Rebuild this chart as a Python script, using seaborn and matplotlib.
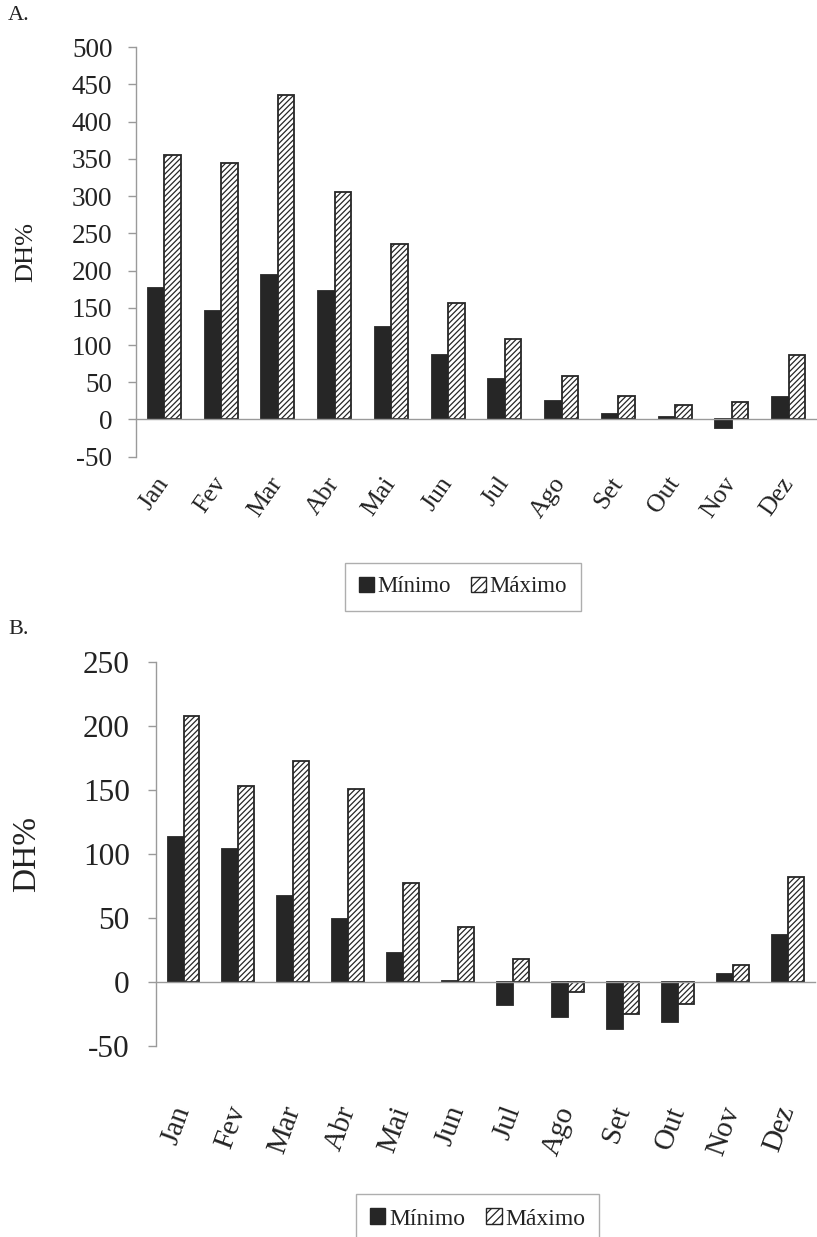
import matplotlib
matplotlib.use("Agg")
import matplotlib.pyplot as plt
from matplotlib.patches import Patch
import numpy as np
import pandas as pd
import seaborn as sns

# Monthly DH% values
meses = ["Jan", "Fev", "Mar", "Abr", "Mai", "Jun",
         "Jul", "Ago", "Set", "Out", "Nov", "Dez"]
series = ["Mínimo", "Máximo"]

a_minimo = [177, 146, 194, 173, 124, 87, 55, 25, 7, 3.5, -12, 30]
a_maximo = [355, 344, 436, 305, 236, 156, 108, 59, 32, 19, 23, 87]

b_minimo = [113, 104, 67, 49, 23, 0.5, -18, -27, -37, -31, 6, 37]
b_maximo = [208, 153, 173, 151, 77, 43, 18, -8, -25, -17, 13.5, 82]

a_yticks = list(range(-50, 501, 50))
b_yticks = list(range(-50, 251, 50))

sns.set_style("white")
plt.rcParams["font.family"] = ["Liberation Serif", "DejaVu Serif"]
plt.rcParams["hatch.linewidth"] = 0.9

DARK = "#262626"
GRAY = "#9a9a9a"


def long_frame(vmin, vmax):
    return pd.DataFrame({
        "mes": meses * 2,
        "serie": [series[0]] * len(meses) + [series[1]] * len(meses),
        "valor": list(vmin) + list(vmax),
    })


def draw_panel(ax, vmin, vmax, yticks, ytick_fs, xtick_fs, rot, pad, ylab_fs, ypad):
    sns.barplot(data=long_frame(vmin, vmax), x="mes", y="valor", hue="serie",
                order=meses, hue_order=series,
                palette={"Mínimo": DARK, "Máximo": "white"},
                saturation=1, width=0.58, errorbar=None,
                edgecolor=DARK, linewidth=1.3, legend=False, ax=ax)
    for bar in ax.containers[1]:
        bar.set_hatch("//////")

    ax.set_xlim(-0.5, len(meses) - 0.5)
    ax.set_ylim(yticks[0], yticks[-1])
    ax.set_yticks(yticks)
    ax.set_yticklabels([str(t) for t in yticks], fontsize=ytick_fs, color="#222222")

    # x axis sits on the zero line; labels hang below the plot
    for s in ["top", "right"]:
        ax.spines[s].set_visible(False)
    ax.spines["bottom"].set_position(("data", 0))
    ax.spines["bottom"].set_color(GRAY)
    ax.spines["left"].set_color(GRAY)
    ax.spines["bottom"].set_linewidth(1.0)
    ax.spines["left"].set_linewidth(1.0)

    ax.set_xticks(range(len(meses)))
    ax.set_xticklabels(meses, fontsize=xtick_fs, rotation=rot,
                       ha="right", va="center", rotation_mode="anchor",
                       color="#222222")
    ax.set_xticks(np.arange(len(meses)) + 0.5, minor=True)
    ax.tick_params(axis="x", which="major", length=0, pad=pad)
    ax.tick_params(axis="x", which="minor", length=5, width=1,
                   color=GRAY, direction="out")
    ax.tick_params(axis="y", length=6, width=1, color=GRAY,
                   direction="out", pad=ypad, left=True)
    ax.set_xlabel("")
    ax.set_ylabel("DH%", fontsize=ylab_fs, color="#222222")


fig = plt.figure(figsize=(8.17, 12.37), dpi=100)
axA = fig.add_axes([0.1665, 0.6308, 0.8335, 0.3310])
axB = fig.add_axes([0.191, 0.1544, 0.8066, 0.3104])

draw_panel(axA, a_minimo, a_maximo, a_yticks, 19.5, 18.5, 55, 43, 19, 11)
draw_panel(axB, b_minimo, b_maximo, b_yticks, 22.5, 21, 70, 90, 24, 13)
axA.yaxis.set_label_coords(-0.145, 0.5)
axB.yaxis.set_label_coords(-0.173, 0.5)

fig.text(8 / 817, 1 - 16 / 1237, "A.", fontsize=16, va="center", ha="left",
         color="#222222")
fig.text(8 / 817, 1 - 630 / 1237, "B.", fontsize=16, va="center", ha="left",
         color="#222222")

handles = [Patch(facecolor=DARK, edgecolor=DARK, label="Mínimo"),
           Patch(facecolor="white", edgecolor=DARK, hatch="////", label="Máximo")]

for (cx, cy, fs) in [(0.5667, 1 - 587 / 1237, 16.5), (0.5845, 1 - 1219 / 1237, 17)]:
    leg = fig.legend(handles=handles, loc="center", bbox_to_anchor=(cx, cy),
                     ncol=2, fontsize=fs, frameon=True, fancybox=False,
                     handlelength=0.65, handleheight=0.65, handletextpad=0.15,
                     columnspacing=0.9, borderpad=0.6)
    leg.get_frame().set_edgecolor(GRAY)
    leg.get_frame().set_linewidth(1.0)
    for t in leg.get_texts():
        t.set_color("#222222")

fig.savefig("out.png", dpi=100)
